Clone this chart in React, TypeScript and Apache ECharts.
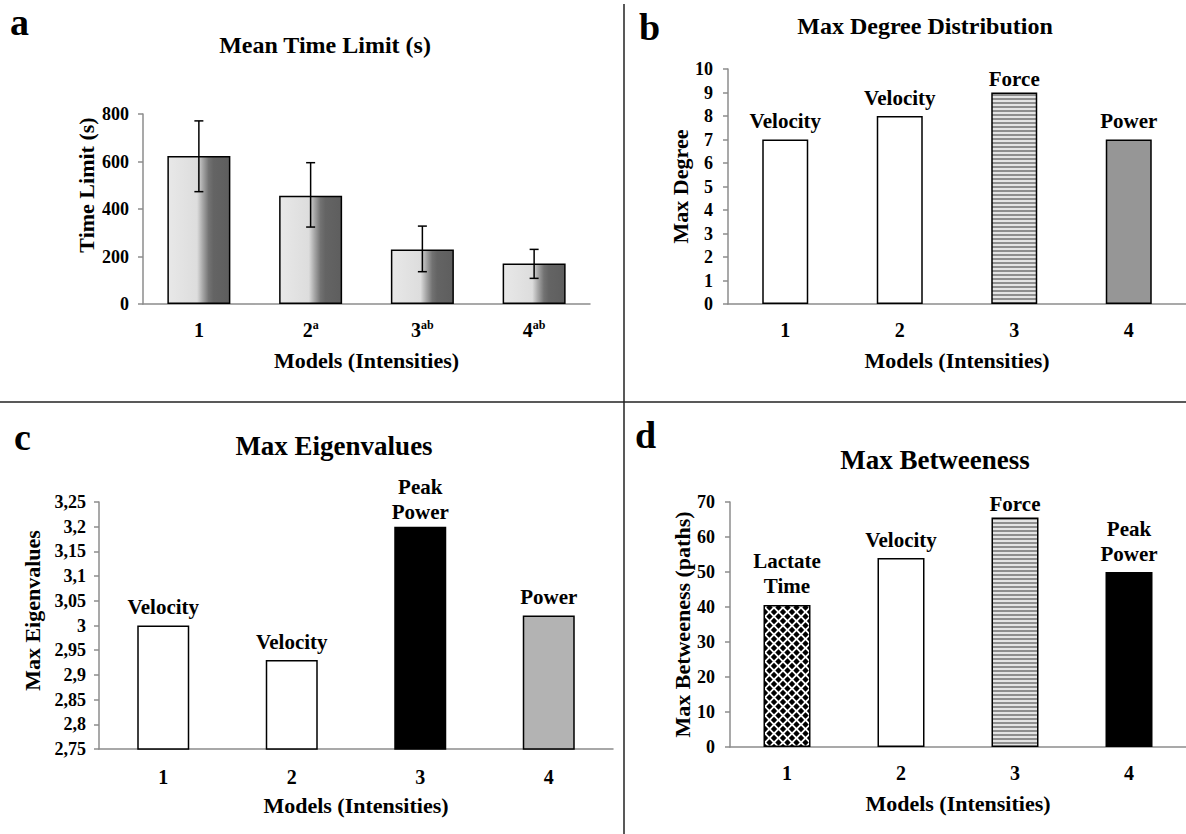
import React, { useEffect, useRef } from 'react';
import * as echarts from 'echarts';

// ---------- data ----------
const categories = ['1', '2', '3', '4'];
const categoryLabelsA = ['1', '2{sup|a}', '3{sup|ab}', '4{sup|ab}'];

const timeLimitMean = [623, 456, 230, 171];
const timeLimitLow = [473, 324, 136, 108];
const timeLimitHigh = [771, 595, 328, 230];

const maxDegree = [7, 8, 9, 7];
const maxDegreeLabels = ['Velocity', 'Velocity', 'Force', 'Power'];

const maxEigen = [3.0, 2.93, 3.2, 3.02];
const maxEigenLabels = ['Velocity', 'Velocity', 'Peak\nPower', 'Power'];

const maxBetween = [40.6, 54, 65.6, 50];
const maxBetweenLabels = ['Lactate\nTime', 'Velocity', 'Force', 'Peak\nPower'];

const FONT = "'Liberation Serif', 'Times New Roman', serif";

function makeStripes(): HTMLCanvasElement {
  const c = document.createElement('canvas');
  c.width = 4;
  c.height = 4;
  const ctx = c.getContext('2d')!;
  ctx.fillStyle = '#e4e4e4';
  ctx.fillRect(0, 0, 4, 4);
  ctx.fillStyle = '#8e8e8e';
  ctx.fillRect(0, 2, 4, 2);
  return c;
}

function makeDiamonds(): HTMLCanvasElement {
  const s = 9;
  const r = 3.2;
  const c = document.createElement('canvas');
  c.width = s;
  c.height = s;
  const ctx = c.getContext('2d')!;
  ctx.fillStyle = '#ffffff';
  ctx.fillRect(0, 0, s, s);
  ctx.fillStyle = '#000000';
  const centers = [
    [0, 0], [s, 0], [0, s], [s, s], [s / 2, s / 2],
  ];
  centers.forEach(([cx, cy]) => {
    ctx.beginPath();
    ctx.moveTo(cx, cy - r);
    ctx.lineTo(cx + r, cy);
    ctx.lineTo(cx, cy + r);
    ctx.lineTo(cx - r, cy);
    ctx.closePath();
    ctx.fill();
  });
  return c;
}

const baseText = { fontFamily: FONT, fontWeight: 'bold' as const, color: '#000' };

export default function App() {
  const ref = useRef<HTMLDivElement>(null);

  useEffect(() => {
    document.body.style.margin = '0';
    if (!ref.current) return;
    const chart = echarts.init(ref.current, undefined, { renderer: 'svg' });

    const stripes = { image: makeStripes(), repeat: 'repeat', imageWidth: 4, imageHeight: 4 };
    const diamonds = { image: makeDiamonds(), repeat: 'repeat', imageWidth: 9, imageHeight: 9 };

    const gradientA = {
      type: 'linear', x: 0, y: 0, x2: 1, y2: 0,
      colorStops: [
        { offset: 0, color: '#e8e8e8' },
        { offset: 0.47, color: '#dddddd' },
        { offset: 0.56, color: '#a8a8a8' },
        { offset: 0.66, color: '#727272' },
        { offset: 0.74, color: '#646464' },
        { offset: 1, color: '#5e5e5e' },
      ],
    };

    const colorsB = ['#ffffff', '#ffffff', stripes, '#969696'];
    const colorsC = ['#ffffff', '#ffffff', '#000000', '#b3b3b3'];
    const colorsD = [diamonds, '#ffffff', stripes, '#000000'];
    // label gap above each bar (Excel puts some labels closer to the bar)
    const gapB = [6, 6, 1, 6];
    const gapC = [6, 6, 2, 6];
    const gapD = [6, 6, 1, 6];

    const grids = [
      { left: 143, top: 114, width: 447, height: 190 },
      { left: 728, top: 69, width: 460, height: 235 },
      { left: 99, top: 502, width: 514, height: 247 },
      { left: 730, top: 502, width: 462, height: 245 },
    ];
    const xLabelMargin = [15, 15, 17, 15];

    const xAxes = grids.map((_, i) => ({
      type: 'category',
      gridIndex: i,
      data: categories,
      axisLine: { lineStyle: { color: '#8c8c8c', width: 1.5 } },
      axisTick: { show: false },
      axisLabel: {
        ...baseText,
        fontSize: 20,
        margin: xLabelMargin[i],
        lineHeight: 22,
        formatter: i === 0 ? (_v: string, idx: number) => categoryLabelsA[idx] : undefined,
        rich: {
          sup: { ...baseText, fontSize: 12, lineHeight: 12, verticalAlign: 'top' },
        },
      },
      name: 'Models (Intensities)',
      nameLocation: 'middle',
      nameGap: 45,
      nameTextStyle: { ...baseText, fontSize: 22 },
      splitLine: { show: false },
    }));

    const yCommon = {
      type: 'value',
      nameLocation: 'middle',
      nameRotate: 90,
      axisLine: { show: true, lineStyle: { color: '#8c8c8c', width: 1.5 } },
      axisTick: { show: true, length: 5, lineStyle: { color: '#8c8c8c', width: 1.5 } },
      splitLine: { show: false },
    };

    const yAxes = [
      {
        ...yCommon, gridIndex: 0, min: 0, max: 800, interval: 200,
        name: 'Time Limit (s)', nameGap: 46,
        nameTextStyle: { ...baseText, fontSize: 22, padding: [0, 0, 0, 48] },
        axisLabel: { ...baseText, fontSize: 18, margin: 14 },
      },
      {
        ...yCommon, gridIndex: 1, min: 0, max: 10, interval: 1,
        name: 'Max Degree', nameGap: 37,
        nameTextStyle: { ...baseText, fontSize: 22 },
        axisLabel: { ...baseText, fontSize: 18, margin: 15 },
      },
      {
        ...yCommon, gridIndex: 2, min: 2.75, max: 3.25, interval: 0.05,
        name: 'Max Eigenvalues', nameGap: 56,
        nameTextStyle: { ...baseText, fontSize: 22, padding: [0, 0, 0, 30] },
        axisLabel: {
          ...baseText, fontSize: 18, margin: 13,
          formatter: (v: number) => String(Math.round(v * 100) / 100).replace('.', ','),
        },
      },
      {
        ...yCommon, gridIndex: 3, min: 0, max: 70, interval: 10,
        name: 'Max Betweeness (paths)', nameGap: 37,
        nameTextStyle: { ...baseText, fontSize: 22 },
        axisLabel: { ...baseText, fontSize: 18, margin: 15 },
      },
    ];

    const barLabel = (labels: string[]) => ({
      show: true,
      position: 'top',
      distance: 6,
      ...baseText,
      fontSize: 21,
      lineHeight: 25,
      formatter: (p: any) => labels[p.dataIndex],
    });

    const series: any[] = [
      {
        type: 'bar',
        xAxisIndex: 0,
        yAxisIndex: 0,
        barWidth: 63,
        data: timeLimitMean,
        itemStyle: { color: gradientA, borderColor: '#000', borderWidth: 1.5 },
      },
      {
        type: 'custom',
        xAxisIndex: 0,
        yAxisIndex: 0,
        z: 10,
        data: timeLimitLow.map((lo, i) => [i, lo, timeLimitHigh[i]]),
        encode: { x: 0, y: [1, 2] },
        renderItem: (_params: any, api: any) => {
          const lo = api.coord([api.value(0), api.value(1)]);
          const hi = api.coord([api.value(0), api.value(2)]);
          const w = 4.5;
          const style = { stroke: '#000', lineWidth: 1.5 };
          return {
            type: 'group',
            children: [
              { type: 'line', shape: { x1: lo[0], y1: lo[1], x2: hi[0], y2: hi[1] }, style },
              { type: 'line', shape: { x1: hi[0] - w, y1: hi[1], x2: hi[0] + w, y2: hi[1] }, style },
              { type: 'line', shape: { x1: lo[0] - w, y1: lo[1], x2: lo[0] + w, y2: lo[1] }, style },
            ],
          };
        },
      },
      {
        type: 'bar',
        xAxisIndex: 1,
        yAxisIndex: 1,
        barWidth: 46,
        data: maxDegree.map((v, i) => ({
          value: v, itemStyle: { color: colorsB[i] }, label: { distance: gapB[i] },
        })),
        itemStyle: { borderColor: '#000', borderWidth: 1.5 },
        label: barLabel(maxDegreeLabels),
      },
      {
        type: 'bar',
        xAxisIndex: 2,
        yAxisIndex: 2,
        barWidth: 52,
        data: maxEigen.map((v, i) => ({
          value: v, itemStyle: { color: colorsC[i] }, label: { distance: gapC[i] },
        })),
        itemStyle: { borderColor: '#000', borderWidth: 1.5 },
        label: barLabel(maxEigenLabels),
      },
      {
        type: 'bar',
        xAxisIndex: 3,
        yAxisIndex: 3,
        barWidth: 47,
        data: maxBetween.map((v, i) => ({
          value: v, itemStyle: { color: colorsD[i] }, label: { distance: gapD[i] },
        })),
        itemStyle: { borderColor: '#000', borderWidth: 1.5 },
        label: barLabel(maxBetweenLabels),
      },
    ];

    const letter = (t: string, x: number, y: number) => ({
      type: 'text',
      x, y,
      style: { text: t, ...baseText, fill: '#000', fontSize: 38, align: 'left', verticalAlign: 'middle' },
    });
    const title = (t: string, x: number, y: number, size: number) => ({
      type: 'text',
      x, y,
      style: { text: t, ...baseText, fill: '#000', fontSize: size, align: 'center', verticalAlign: 'middle' },
    });
    const divStyle = { stroke: '#222', lineWidth: 1.5 };

    const graphic = [
      { type: 'line', shape: { x1: 624, y1: 4, x2: 624, y2: 834 }, style: divStyle },
      { type: 'line', shape: { x1: 0, y1: 402, x2: 1186, y2: 402 }, style: divStyle },
      letter('a', 10, 22),
      letter('b', 639, 27),
      letter('c', 14, 437),
      letter('d', 635, 435),
      title('Mean Time Limit (s)', 325, 45, 24),
      title('Max Degree Distribution', 925, 26, 24),
      title('Max Eigenvalues', 334, 446, 27),
      title('Max Betweeness', 935, 460, 27),
    ];

    chart.setOption({
      animation: false,
      backgroundColor: '#ffffff',
      grid: grids,
      xAxis: xAxes,
      yAxis: yAxes,
      series,
      graphic,
    });

    return () => chart.dispose();
  }, []);

  return <div ref={ref} style={{ width: 1186, height: 834 }} />;
}
